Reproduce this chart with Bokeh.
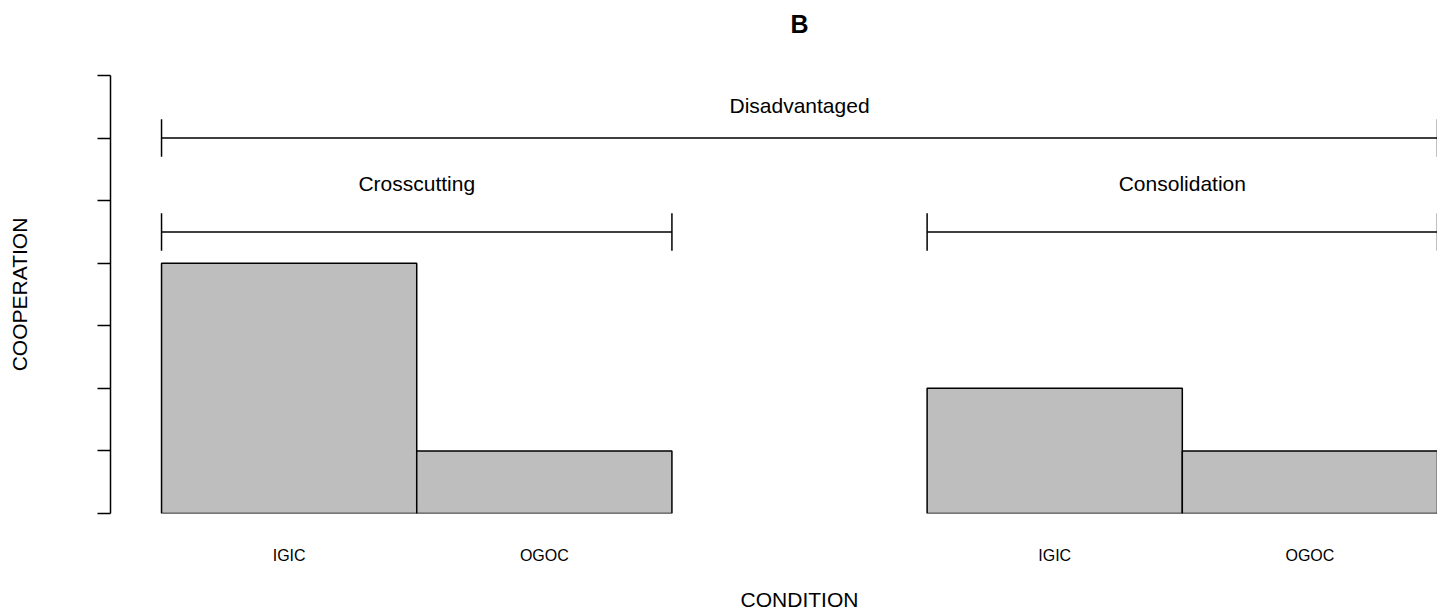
from bokeh.plotting import figure
from bokeh.models import LinearAxis, FixedTicker, Range1d, ColumnDataSource
from bokeh.core.properties import value
from bokeh.embed import file_html
from bokeh.resources import INLINE

# ---- data ----
conditions = ["IGIC", "OGOC", "IGIC", "OGOC"]
bar_left = [0, 1, 3, 4]
bar_right = [1, 2, 4, 5]
cooperation = [4, 1, 2, 1]
y_ticks = [0, 1, 2, 3, 4, 5, 6, 7]
group_names = ["Crosscutting", "Consolidation", "Disadvantaged"]
group_start = [0, 3, 0]
group_end = [2, 5, 5]
group_level = [4.5, 4.5, 6.0]
title_text = "B"
x_title = "CONDITION"
y_title = "COOPERATION"

FONT = "Liberation Sans"
W, H = 1437, 613

p = figure(width=W, height=H, output_backend="svg", toolbar_location=None,
           x_range=Range1d(-0.2, 5), y_range=Range1d(0, 7),
           min_border_left=110, min_border_right=0, min_border_top=75, min_border_bottom=100,
           x_axis_location=None, y_axis_location=None)
p.outline_line_color = None
p.xgrid.visible = False
p.ygrid.visible = False
p.background_fill_color = "white"
p.border_fill_color = "white"

# bars
src = ColumnDataSource(dict(left=bar_left, right=bar_right, top=cooperation,
                            bottom=[0] * len(cooperation)))
p.quad(left="left", right="right", top="top", bottom="bottom", source=src,
       fill_color="#BEBEBE", line_color="black", line_width=1.5)

# brackets
cap = 0.3
label_gap = [0.77, 0.77, 0.52]
p.segment(x0=group_start, x1=group_end, y0=group_level, y1=group_level,
          line_color="black", line_width=1.5)
p.segment(x0=group_start, x1=group_start,
          y0=[l - cap for l in group_level], y1=[l + cap for l in group_level],
          line_color="black", line_width=1.5)
p.segment(x0=group_end, x1=group_end,
          y0=[l - cap for l in group_level], y1=[l + cap for l in group_level],
          line_color="black", line_width=1.5)
p.text(x=[(a + b) / 2 for a, b in zip(group_start, group_end)],
       y=[l + g for l, g in zip(group_level, label_gap)], text=group_names,
       text_font=value(FONT), text_font_size="21px", text_align="center",
       text_baseline="middle", text_color="black")

x_mid = (min(bar_left) + max(bar_right)) / 2


def bare_axis(ticks, labels, size, standoff, style="normal"):
    ax = LinearAxis(ticker=FixedTicker(ticks=ticks))
    ax.major_label_overrides = {t: l for t, l in zip(ticks, labels)}
    ax.axis_line_color = None
    ax.major_tick_line_color = None
    ax.minor_tick_line_color = None
    ax.major_tick_out = 0
    ax.major_tick_in = 0
    ax.major_label_standoff = standoff
    ax.major_label_text_font = FONT
    ax.major_label_text_font_size = size
    ax.major_label_text_font_style = style
    ax.major_label_text_color = "black"
    return ax


# title "B" centred over the bar area
p.add_layout(bare_axis([x_mid], [title_text], "25px", 38, "bold"), "above")

# y axis
yax = LinearAxis(ticker=FixedTicker(ticks=y_ticks), bounds=(0, 7),
                 axis_label=y_title)
yax.major_label_text_font_size = "0px"
yax.major_label_text_color = None
yax.major_tick_out = 13
yax.major_tick_in = 0
yax.minor_tick_line_color = None
yax.axis_line_width = 1.5
yax.major_tick_line_width = 1.5
yax.axis_line_color = "black"
yax.major_tick_line_color = "black"
yax.axis_label_text_font = FONT
yax.axis_label_text_font_size = "21px"
yax.axis_label_text_font_style = "normal"
yax.axis_label_text_color = "black"
yax.axis_label_standoff = 67
p.add_layout(yax, "left")

# x axis: category labels, then the condition title centred on the bars
p.add_layout(bare_axis([(a + b) / 2 for a, b in zip(bar_left, bar_right)], conditions,
                       "16px", 33), "below")
p.add_layout(bare_axis([x_mid], [x_title], "21px", 21), "below")

open("out.html", "w").write(file_html(p, INLINE))
